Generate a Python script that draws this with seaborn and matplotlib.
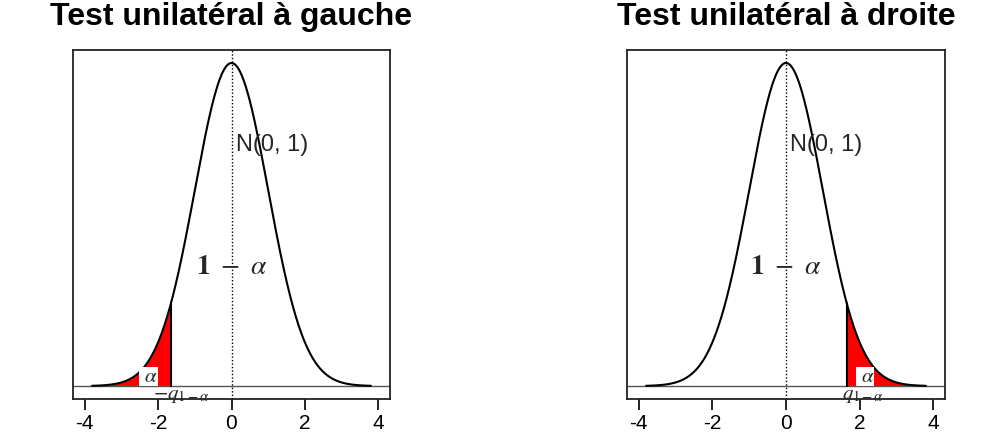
import numpy as np
import pandas as pd
import seaborn as sns
import matplotlib
matplotlib.use("Agg")
import matplotlib.pyplot as plt

# ---- data ----
titles = ["Test unilatéral à gauche", "Test unilatéral à droite"]
sides = ["left", "right"]
mu, sigma = 0.0, 1.0           # N(0, 1)
q_level = 1.645                # q_{1-alpha} for alpha = 0.05
x_range = [-3.8, 3.8]
x_ticks = [-4, -2, 0, 2, 4]
x_tick_labels = ["-4", "-2", "0", "2", "4"]
dist_label = "N(0, 1)"

sns.set_theme(style="white")
plt.rcParams['font.family'] = ['Liberation Sans', 'DejaVu Sans']
plt.rcParams['mathtext.fontset'] = 'stix'

x = np.linspace(x_range[0], x_range[1], 600)
dens = np.exp(-0.5 * ((x - mu) / sigma) ** 2) / (sigma * np.sqrt(2 * np.pi))
df = pd.DataFrame({"x": x, "d": dens})
q_d = np.exp(-0.5 * (q_level / sigma) ** 2) / (sigma * np.sqrt(2 * np.pi))

fig = plt.figure(figsize=(9.81, 4.36), dpi=100)
positions = [[73/981, 1-399/436, (390-73)/981, (399-50)/436],
             [627/981, 1-399/436, (945-627)/981, (399-50)/436]]

for k, (title, side) in enumerate(zip(titles, sides)):
    ax = fig.add_axes(positions[k])
    ax.set_xlim(-4.32, 4.32)
    ax.set_ylim(-0.016, 0.415)
    if side == "left":
        m = df["x"] <= -q_level
        qx = -q_level
        a_x = -2.26
        q_lab, q_x = r"$-q_{1-\alpha}$", -1.36
    else:
        m = df["x"] >= q_level
        qx = q_level
        a_x = 2.15
        q_lab, q_x = r"$q_{1-\alpha}$", 2.1
    ax.fill_between(df["x"][m], 0, df["d"][m], color="red", lw=0, zorder=1)
    ax.plot([qx, qx], [0, q_d], color="black", lw=1.5, zorder=3)
    sns.lineplot(data=df, x="x", y="d", ax=ax, color="black", lw=1.5, zorder=3)
    ax.axhline(0, color="#555555", lw=1, zorder=2)
    ax.axvline(0, color="black", lw=1, ls=(0, (1, 1.5)), zorder=2)

    ax.text(0.12, 0.298, dist_label, fontsize=17, ha="left", va="center")
    ax.text(0, 0.147, r"$\mathbf{1}\ -\ \alpha$", fontsize=20, ha="center", va="center")
    ax.text(a_x, 0.0115, r"$\ \alpha\ $", fontsize=15, ha="center", va="center",
            bbox=dict(facecolor="white", edgecolor="none", pad=0.0), zorder=4)
    ax.text(q_x, -0.0115, q_lab, fontsize=15, ha="center", va="center", zorder=4)

    ax.set_xticks(x_ticks)
    ax.set_xticklabels(x_tick_labels, fontsize=15)
    ax.set_yticks([])
    ax.set_xlabel("")
    ax.set_ylabel("")
    ax.tick_params(axis="x", direction="out", length=8, width=1.2, pad=3,
                   bottom=True, colors="black")
    for s in ax.spines.values():
        s.set_color("#222222")
        s.set_linewidth(1.3)
    cx = positions[k][0] + positions[k][2] / 2
    fig.text(cx, 1 - 17/436, title, fontsize=23, fontweight="bold",
             ha="center", va="center", color="black")

fig.savefig("out.png", dpi=100)
